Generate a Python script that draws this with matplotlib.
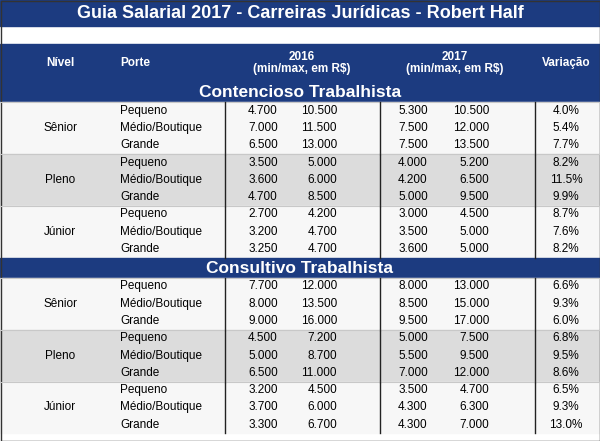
import matplotlib
matplotlib.use("Agg")
import matplotlib.pyplot as plt
from matplotlib.patches import Rectangle

title = "Guia Salarial 2017 - Carreiras Jurídicas - Robert Half"
headers = ["Nível", "Porte", "2016\n(min/max, em R$)", "2017\n(min/max, em R$)", "Variação"]
sections = ["Contencioso Trabalhista", "Consultivo Trabalhista"]
niveis = ["Sênior", "Pleno", "Júnior"]
portes = ["Pequeno", "Médio/Boutique", "Grande"]
min2016 = [[4700, 7000, 6500], [3500, 3600, 4700], [2700, 3200, 3250],
           [7700, 8000, 9000], [4500, 5000, 6500], [3200, 3700, 3300]]
max2016 = [[10500, 11500, 13000], [5000, 6000, 8500], [4200, 4700, 4700],
           [12000, 13500, 16000], [7200, 8700, 11000], [4500, 6000, 6700]]
min2017 = [[5300, 7500, 7500], [4000, 4200, 5000], [3000, 3500, 3600],
           [8000, 8500, 9500], [5000, 5500, 7000], [3500, 4300, 4300]]
max2017 = [[10500, 12000, 13500], [5200, 6500, 9500], [4500, 5000, 5000],
           [13000, 15000, 17000], [7500, 9500, 12000], [4700, 6300, 7000]]
variacao = [[4.0, 5.4, 7.7], [8.2, 11.5, 9.9], [8.7, 7.6, 8.2],
            [6.6, 9.3, 6.0], [6.8, 9.5, 8.6], [6.5, 9.3, 13.0]]

def fmt(v):
    return f"{v:,}".replace(",", ".")

BLUE = "#1c3b80"
fig = plt.figure(figsize=(6, 4.41), dpi=100)
ax = fig.add_axes([0, 0, 1, 1])
ax.set_xlim(0, 600); ax.set_ylim(441, 0); ax.axis("off")
F = "Liberation Sans"

ax.add_patch(Rectangle((0, 0), 600, 26, color=BLUE))
ax.text(300, 13, title, color="white", ha="center", va="center", fontsize=13, fontweight="bold", family=F)
ax.add_patch(Rectangle((0, 44), 600, 38, color=BLUE))
hx = [60, 120, 302, 455, 566]
for i, (h, x) in enumerate(zip(headers, hx)):
    ax.text(x, 63, h, color="white", ha="left" if i == 1 else "center", va="center",
            fontsize=8.5, fontweight="bold", family=F, linespacing=1.1)

row_h = 17.3
y = 82
for s, sec in enumerate(sections):
    ax.add_patch(Rectangle((0, y), 600, 20, color=BLUE))
    ax.text(300, y + 10.5, sec, color="white", ha="center", va="center", fontsize=12.5, fontweight="bold", family=F)
    y += 20
    for n, niv in enumerate(niveis):
        g = s * 3 + n
        bg = "#dcdcdc" if n == 1 else "#f7f7f7"
        ax.add_patch(Rectangle((0, y), 600, row_h * 3, color=bg))
        ax.plot([0, 600], [y, y], color="#c8c8c8", lw=0.8)
        ax.text(60, y + row_h * 1.5, niv, ha="center", va="center", fontsize=8.5, family=F)
        for r in range(3):
            yc = y + row_h * (r + 0.5)
            ax.text(120, yc, portes[r], ha="left", va="center", fontsize=8.5, family=F)
            ax.text(263, yc, fmt(min2016[g][r]), ha="center", va="center", fontsize=8.5, family=F)
            ax.text(337, yc, fmt(max2016[g][r]), ha="right", va="center", fontsize=8.5, family=F)
            ax.text(413, yc, fmt(min2017[g][r]), ha="center", va="center", fontsize=8.5, family=F)
            ax.text(489, yc, fmt(max2017[g][r]), ha="right", va="center", fontsize=8.5, family=F)
            ax.text(566, yc, f"{variacao[g][r]:.1f}%", ha="center", va="center", fontsize=8.5, family=F)
        y0 = y
        y += row_h * 3
        for xv in [225, 380, 535]:
            ax.plot([xv, xv], [y0, y], color="#222222", lw=1)
ax.add_patch(Rectangle((0.5, 0.5), 599, 440, fill=False, ec="#333333", lw=1))
fig.savefig("out.png", dpi=100)
